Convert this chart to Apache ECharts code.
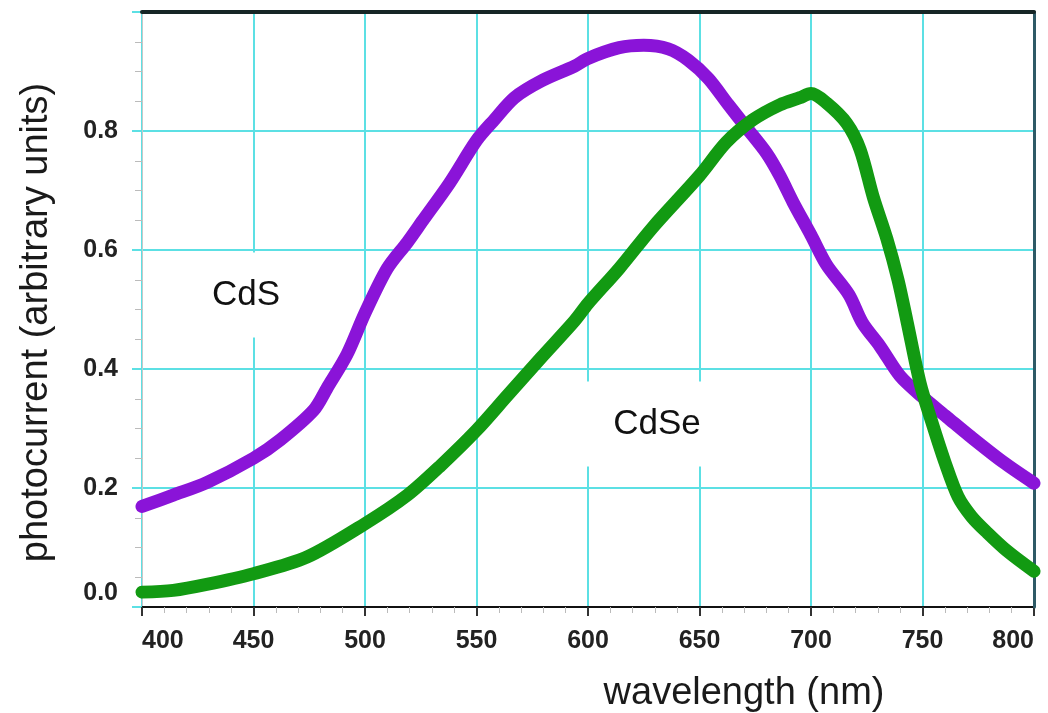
<!DOCTYPE html>
<html>
<head>
<meta charset="utf-8">
<script src="https://cdn.jsdelivr.net/npm/echarts@6/dist/echarts.min.js"></script>
<style>
html,body{margin:0;padding:0;background:#fff;}
#chart{width:1048px;height:713px;}
</style>
</head>
<body>
<div id="chart"></div>
<script>
// ---- data ----
const cdsWavelength = [400,414,429,450,462,477,483,492,500,510,519,526,538,550,558,567,579,594,600,614,625,636,645,654,663,671,680,686,692,700,707,717,723,731,740,750,761,771,786,800];
const cdsValues     = [0.169,0.188,0.209,0.25,0.281,0.331,0.368,0.425,0.494,0.569,0.613,0.65,0.713,0.784,0.819,0.856,0.884,0.909,0.922,0.94,0.944,0.938,0.919,0.888,0.844,0.806,0.763,0.725,0.68,0.625,0.575,0.525,0.478,0.438,0.388,0.353,0.319,0.288,0.244,0.208];
const cdseWavelength = [400,414,429,450,474,500,519,534,550,564,579,594,600,614,629,650,662,674,686,695,700,707,716,722,728,734,739,743,749,754,760,766,772,779,788,800];
const cdseValues     = [0.025,0.028,0.038,0.056,0.084,0.14,0.188,0.238,0.297,0.356,0.419,0.481,0.51,0.569,0.638,0.725,0.781,0.819,0.844,0.856,0.863,0.847,0.813,0.769,0.688,0.619,0.55,0.481,0.375,0.313,0.244,0.185,0.152,0.125,0.094,0.06];
const seriesNames = ['CdS', 'CdSe'];
const xAxisTitle = 'wavelength (nm)';
const yAxisTitle = 'photocurrent (arbitrary units)';

const pair = (xs, ys) => xs.map((x, i) => [x, ys[i]]);

const FONT = "'Liberation Sans', Arial, sans-serif";
const GRIDC = '#5ce0e4';

const chart = echarts.init(document.getElementById('chart'));
chart.setOption({
  animation: false,
  backgroundColor: '#ffffff',
  grid: { left: 142, right: 14, top: 12, bottom: 106, containLabel: false, outerBoundsMode: 'none' },
  xAxis: [{
    type: 'value', min: 400, max: 800, interval: 50,
    name: xAxisTitle, nameLocation: 'middle', nameGap: 68,
    nameTextStyle: { fontFamily: FONT, fontSize: 38, color: '#1a1a1a', padding: [0, 0, 0, 312] },
    axisLine: { show: true, onZero: false, lineStyle: { color: '#111', width: 2 } },
    axisTick: { show: true, length: 9, lineStyle: { color: '#333', width: 2 } },
    minorTick: { show: true, splitNumber: 5, length: 6, lineStyle: { color: '#bbb', width: 1 } },
    axisLabel: { fontFamily: FONT, fontSize: 25, fontWeight: 'bold', color: '#222', margin: 22,
      alignMinLabel: 'left', alignMaxLabel: 'right' },
    splitLine: { show: true, lineStyle: { color: GRIDC, width: 2 } }
  }, {
    type: 'value', min: 400, max: 800, position: 'top', z: 5,
    axisLine: { show: true, onZero: false, lineStyle: { color: '#162626', width: 4 } },
    axisTick: { show: false }, axisLabel: { show: false }, splitLine: { show: false }
  }],
  yAxis: [{
    type: 'value', min: 0, max: 1, interval: 0.2,
    name: yAxisTitle, nameLocation: 'middle', nameGap: 86,
    nameTextStyle: { fontFamily: FONT, fontSize: 38, color: '#1a1a1a', padding: [0, 26, 0, 0] },
    axisLine: { show: true, onZero: false, lineStyle: { color: '#c8c8c8', width: 1 } },
    axisTick: { show: true, length: 10, lineStyle: { color: GRIDC, width: 2 } },
    minorTick: { show: true, splitNumber: 4, length: 7, lineStyle: { color: '#bbb', width: 1 } },
    axisLabel: {
      fontFamily: FONT, fontSize: 25, fontWeight: 'bold', color: '#222', margin: 24,
      formatter: v => v >= 0.999 ? '' : (v < 0.001 ? '{z|0.0}' : v.toFixed(1)),
      rich: { z: { fontFamily: FONT, fontSize: 25, fontWeight: 'bold', color: '#222', padding: [0, 0, 28, 0] } }
    },
    splitLine: { show: true, lineStyle: { color: GRIDC, width: 2 } }
  }, {
    type: 'value', min: 0, max: 1, position: 'right', z: 5,
    axisLine: { show: true, onZero: false, lineStyle: { color: '#2e5a66', width: 3 } },
    axisTick: { show: false }, axisLabel: { show: false }, splitLine: { show: false }
  }],
  graphic: [{
    type: 'text', z: 5, x: 246, y: 295,
    style: { text: seriesNames[0], font: "35px 'Liberation Sans', Arial, sans-serif", fill: '#111',
      align: 'center', verticalAlign: 'middle', backgroundColor: '#fff', padding: [25, 34] }
  }, {
    type: 'text', z: 5, x: 657, y: 424,
    style: { text: seriesNames[1], font: "35px 'Liberation Sans', Arial, sans-serif", fill: '#111',
      align: 'center', verticalAlign: 'middle', backgroundColor: '#fff', padding: [25, 74] }
  }],
  series: [{
    name: seriesNames[0], type: 'line', data: pair(cdsWavelength, cdsValues),
    showSymbol: false, smooth: 0.3, z: 10,
    lineStyle: { color: '#8a14d8', width: 13, cap: 'round', join: 'round' }
  }, {
    name: seriesNames[1], type: 'line', data: pair(cdseWavelength, cdseValues),
    showSymbol: false, smooth: 0.3, z: 11,
    lineStyle: { color: '#129a12', width: 13, cap: 'round', join: 'round' }
  }]
});
</script>
</body>
</html>
